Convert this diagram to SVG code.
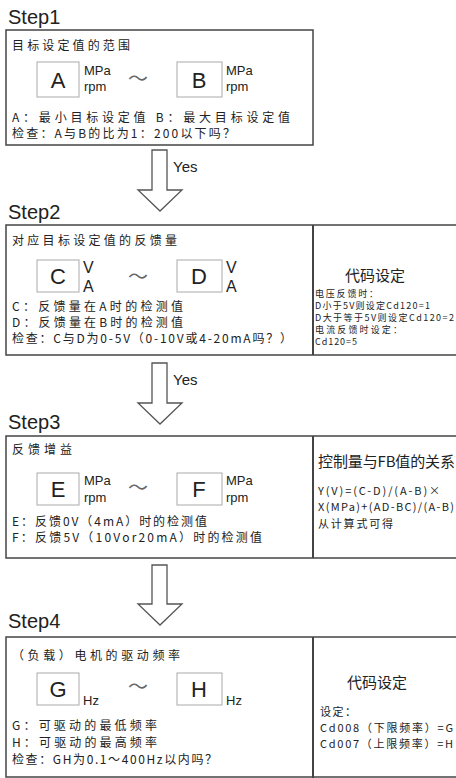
<svg xmlns="http://www.w3.org/2000/svg" width="456" height="778" viewBox="0 0 456 778">
<style>
text{fill:#222;}
.step{font-family:"Liberation Sans",Arial,sans-serif;font-size:20px;}
.cn{font-family:"Noto Sans CJK SC","Noto Sans",sans-serif;font-size:12px;}
.big{font-family:"Liberation Sans",Arial,sans-serif;font-size:22px;text-anchor:middle;}
.unit{font-family:"Liberation Sans",Arial,sans-serif;font-size:13px;}
.unit2{font-family:"Liberation Sans",Arial,sans-serif;font-size:16px;}
.tilde{font-family:"Noto Sans CJK SC",sans-serif;font-size:20px;fill:#666;text-anchor:middle;}
.hd{font-family:"Noto Sans CJK SC",sans-serif;font-size:15px;}
.sm{font-family:"Noto Sans CJK SC",sans-serif;font-size:9px;}
.md{font-family:"Noto Sans CJK SC",sans-serif;font-size:11px;}
.frame{fill:none;stroke:#444;stroke-width:1.5;}
.div{stroke:#444;stroke-width:2;}
.vbox{fill:#fff;stroke:#aaa;stroke-width:1;}
.arrow{fill:#fff;stroke:#555;stroke-width:1.3;stroke-linejoin:miter;}
.yes{font-family:"Liberation Sans",Arial,sans-serif;font-size:15px;}
</style>

<g id="step1">
  <text class="step" x="8" y="24">Step1</text>
  <rect class="frame" x="6" y="30" width="307" height="115"/>
  <text class="cn" x="12" y="50" textLength="118" lengthAdjust="spacing">目标设定值的范围</text>
  <rect class="vbox" x="37" y="62" width="42" height="35"/>
  <text class="big" x="58" y="88">A</text>
  <text class="unit" x="84" y="75">MPa</text>
  <text class="unit" x="84" y="91">rpm</text>
  <text class="tilde" x="138" y="86">～</text>
  <rect class="vbox" x="177" y="62" width="45" height="35"/>
  <text class="big" x="199" y="88">B</text>
  <text class="unit" x="226" y="75">MPa</text>
  <text class="unit" x="226" y="91">rpm</text>
  <text class="cn" x="12" y="122" textLength="278" lengthAdjust="spacing">A：最小目标设定值  B：最大目标设定值</text>
  <text class="cn" x="12" y="138" textLength="223" lengthAdjust="spacing">检查：A与B的比为1：200以下吗？</text>
</g>

<g id="step2">
  <text class="step" x="8" y="219">Step2</text>
  <rect class="frame" x="6" y="225" width="460" height="130"/>
  <line class="div" x1="313" y1="225" x2="313" y2="355"/>
  <text class="cn" x="12" y="245" textLength="165" lengthAdjust="spacing">对应目标设定值的反馈量</text>
  <rect class="vbox" x="37" y="260" width="42" height="32"/>
  <text class="big" x="58" y="284">C</text>
  <text class="unit2" x="83" y="273">V</text>
  <text class="unit2" x="83" y="292">A</text>
  <text class="tilde" x="138" y="284">～</text>
  <rect class="vbox" x="177" y="260" width="45" height="32"/>
  <text class="big" x="199" y="284">D</text>
  <text class="unit2" x="226" y="273">V</text>
  <text class="unit2" x="226" y="292">A</text>
  <text class="cn" x="12" y="311" textLength="171" lengthAdjust="spacing">C：反馈量在A时的检测值</text>
  <text class="cn" x="12" y="327" textLength="171" lengthAdjust="spacing">D：反馈量在B时的检测值</text>
  <text class="cn" x="12" y="343" textLength="280" lengthAdjust="spacing">检查：C与D为0-5V（0-10V或4-20mA吗？）</text>
  <text class="hd" x="345" y="281" textLength="60" lengthAdjust="spacing">代码设定</text>
  <text class="sm" x="315" y="297" textLength="63" lengthAdjust="spacing">电压反馈时：</text>
  <text class="sm" x="315" y="309" textLength="115" lengthAdjust="spacing">D小于5V则设定Cd120=1</text>
  <text class="sm" x="315" y="321" textLength="139" lengthAdjust="spacing">D大于等于5V则设定Cd120=2</text>
  <text class="sm" x="315" y="333" textLength="87" lengthAdjust="spacing">电流反馈时设定：</text>
  <text class="sm" x="315" y="345" textLength="42" lengthAdjust="spacing">Cd120=5</text>
</g>

<g id="step3">
  <text class="step" x="8" y="429">Step3</text>
  <rect class="frame" x="6" y="436" width="460" height="122"/>
  <line class="div" x1="313" y1="436" x2="313" y2="558"/>
  <text class="cn" x="12" y="454" textLength="60" lengthAdjust="spacing">反馈增益</text>
  <rect class="vbox" x="37" y="473" width="42" height="32"/>
  <text class="big" x="58" y="497">E</text>
  <text class="unit" x="84" y="485">MPa</text>
  <text class="unit" x="84" y="502">rpm</text>
  <text class="tilde" x="138" y="495">～</text>
  <rect class="vbox" x="177" y="473" width="45" height="32"/>
  <text class="big" x="199" y="497">F</text>
  <text class="unit" x="226" y="485">MPa</text>
  <text class="unit" x="226" y="502">rpm</text>
  <text class="cn" x="12" y="526" textLength="195" lengthAdjust="spacing">E：反馈0V（4mA）时的检测值</text>
  <text class="cn" x="12" y="542" textLength="250" lengthAdjust="spacing">F：反馈5V（10Vor20mA）时的检测值</text>
  <text class="hd" x="318" y="467" textLength="137" lengthAdjust="spacing">控制量与FB值的关系</text>
  <text class="md" x="318" y="495" textLength="122" lengthAdjust="spacing">Y(V)=(C-D)/(A-B)×</text>
  <text class="md" x="318" y="511" textLength="136" lengthAdjust="spacing">X(MPa)+(AD-BC)/(A-B)</text>
  <text class="md" x="318" y="528" textLength="75" lengthAdjust="spacing">从计算式可得</text>
</g>

<g id="step4">
  <text class="step" x="8" y="628">Step4</text>
  <rect class="frame" x="6" y="637" width="460" height="140"/>
  <line class="div" x1="313" y1="637" x2="313" y2="778"/>
  <text class="cn" x="12" y="660" textLength="168" lengthAdjust="spacing">（负载）电机的驱动频率</text>
  <rect class="vbox" x="37" y="673" width="42" height="32"/>
  <text class="big" x="58" y="697">G</text>
  <text class="unit" x="83" y="705">Hz</text>
  <text class="tilde" x="138" y="694">～</text>
  <rect class="vbox" x="177" y="673" width="45" height="32"/>
  <text class="big" x="199" y="697">H</text>
  <text class="unit" x="226" y="705">Hz</text>
  <text class="cn" x="12" y="730" textLength="145" lengthAdjust="spacing">G：可驱动的最低频率</text>
  <text class="cn" x="12" y="747" textLength="145" lengthAdjust="spacing">H：可驱动的最高频率</text>
  <text class="cn" x="12" y="764" textLength="205" lengthAdjust="spacing">检查：GH为0.1～400Hz以内吗？</text>
  <text class="hd" x="347" y="688" textLength="60" lengthAdjust="spacing">代码设定</text>
  <text class="md" x="320" y="716" textLength="36" lengthAdjust="spacing">设定：</text>
  <text class="md" x="320" y="732" textLength="133" lengthAdjust="spacing">Cd008（下限频率）=G</text>
  <text class="md" x="320" y="748" textLength="133" lengthAdjust="spacing">Cd007（上限频率）=H</text>
</g>

<g id="connectors">
  <path class="arrow" d="M152,150 H167 V190 H182 L160,211 L138,190 H152 Z"/>
  <text class="yes" x="173" y="172">Yes</text>
  <path class="arrow" d="M152,363 H167 V403 H182 L160,424 L138,403 H152 Z"/>
  <text class="yes" x="173" y="385">Yes</text>
  <path class="arrow" d="M152,565 H167 V604 H182 L160,625 L138,604 H152 Z"/>
</g>
</svg>
